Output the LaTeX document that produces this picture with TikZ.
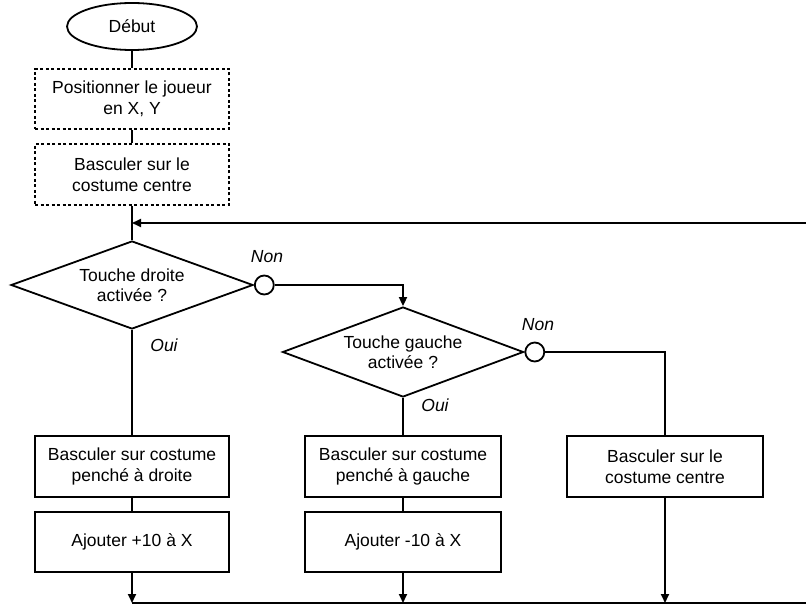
\documentclass[tikz,border=0pt]{standalone}
\usepackage{fontspec}
\setmainfont{Liberation Sans}
\usetikzlibrary{shapes.geometric,arrows.meta}

\begin{document}
\begin{tikzpicture}[x=1pt, y=-1pt, line width=1.8pt,
	font=\fontsize{17.5}{20.5}\selectfont,
	boite/.style={draw, rectangle, align=center, inner sep=0pt},
	pointilles/.style={boite, dash pattern=on 3pt off 2.5pt},
	test/.style={draw, diamond, aspect=2.8, inner sep=0pt, align=center},
	rond/.style={draw, circle, fill=white, minimum size=19pt, inner sep=0pt},
	fleche/.style={-{Triangle[length=9pt,width=8pt]}},
	reponse/.style={font=\fontsize{17.5}{20.5}\selectfont\itshape}]
	\useasboundingbox (0,0) rectangle (806,604);

	\node[draw, ellipse, minimum width=130pt, minimum height=47pt, inner sep=0pt] (debut) at (132,26.5) {Début};
	\node[pointilles, minimum width=194pt, minimum height=60pt] (position) at (132,99) {Positionner le joueur\\en X, Y};
	\node[pointilles, minimum width=194pt, minimum height=61pt] (centre0) at (132,174.5) {Basculer sur le\\costume centre};

	\node[test, minimum width=242pt, minimum height=88pt] (testD) at (132,285) {Touche droite\\activée ?};
	\node[rond, anchor=west] (nonD) at (testD.east) {};
	\node[test, minimum width=241pt, minimum height=90pt] (testG) at (403,352) {Touche gauche\\activée ?};
	\node[rond, anchor=west] (nonG) at (testG.east) {};

	\node[boite, minimum width=194pt, minimum height=61pt] (penchD) at (132,466.5) {Basculer sur costume\\penché à droite};
	\node[boite, minimum width=196pt, minimum height=61pt] (penchG) at (403,466.5) {Basculer sur costume\\penché à gauche};
	\node[boite, minimum width=196pt, minimum height=61pt] (centre) at (665,466.5) {Basculer sur le\\costume centre};
	\node[boite, minimum width=194pt, minimum height=60pt] (ajoutD) at (132,542) {Ajouter +10 à X};
	\node[boite, minimum width=196pt, minimum height=60pt] (ajoutG) at (403,542) {Ajouter -10 à X};

	\node[reponse] (etiqNonD) at (267,257) {Non};
	\node[reponse] (etiqOuiD) at (164,345) {Oui};
	\node[reponse] (etiqNonG) at (538,325) {Non};
	\node[reponse] (etiqOuiG) at (435,405) {Oui};

	\coordinate (retour) at (806,223);
	\coordinate (fin) at (806,603);

	% sequence de depart
	\draw (debut) -- (position);
	\draw (position) -- (centre0);
	\draw (centre0) -- (testD);
	\draw[fleche] (retour) -- (retour -| testD.north);

	% branches
	\draw[fleche] (nonD) -| (testG);
	\draw (nonG) -| (centre);
	\draw (testD) -- (penchD);
	\draw (testG) -- (penchG);
	\draw (penchD) -- (ajoutD);
	\draw (penchG) -- (ajoutG);

	% retour en bas
	\draw[fleche] (ajoutD) -- (ajoutD |- fin);
	\draw[fleche] (ajoutG) -- (ajoutG |- fin);
	\draw[fleche] (centre) -- (centre |- fin);
	\draw (ajoutD.south |- fin) -- (fin);
\end{tikzpicture}
\end{document}
